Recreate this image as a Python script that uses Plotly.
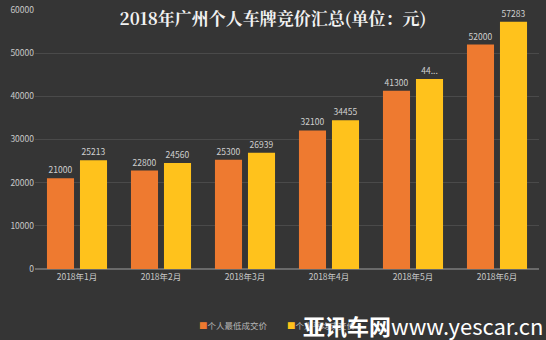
import plotly.graph_objects as go

months = ["2018年1月", "2018年2月", "2018年3月", "2018年4月", "2018年5月", "2018年6月"]
min_price = [21000, 22800, 25300, 32100, 41300, 52000]
avg_price = [25213, 24560, 26939, 34455, 44000, 57283]
avg_labels = ["25213", "24560", "26939", "34455", "44...", "57283"]
min_labels = [str(v) for v in min_price]
series_names = ["个人最低成交价", "个人平均成交价"]
colors = ["#EE7A30", "#FFC21C"]

fig = go.Figure()
fig.add_trace(go.Bar(
    x=months, y=min_price, name=series_names[0],
    marker=dict(color=colors[0], line=dict(width=0)),
    text=min_labels, textposition="outside", cliponaxis=False,
    textfont=dict(color="#d0d0d0", size=8.5),
))
fig.add_trace(go.Bar(
    x=months, y=avg_price, name=series_names[1],
    marker=dict(color=colors[1], line=dict(width=0)),
    text=avg_labels, textposition="outside", cliponaxis=False,
    textfont=dict(color="#d0d0d0", size=8.5),
))

fig.update_layout(
    width=546, height=340,
    margin=dict(l=35, r=7, t=10, b=71, autoexpand=False),
    paper_bgcolor="#353535", plot_bgcolor="rgba(0,0,0,0)",
    font=dict(family="Noto Sans CJK SC, sans-serif", color="#cccccc", size=9),
    barmode="group", bargap=0.214, bargroupgap=0.18,
    title=dict(text="<b>2018年广州个人车牌竞价汇总(单位：元)</b>",
               x=0.5, xanchor="center", y=0.945, yanchor="middle",
               font=dict(size=17, color="#f2f2f2", family="Noto Serif CJK SC, Noto Sans CJK SC, serif")),
    showlegend=False,
    uniformtext=dict(minsize=8, mode="show"),
)
fig.update_yaxes(range=[0, 60000], dtick=10000, tickformat="d", showgrid=True, gridcolor="#4a4a4a",
                 gridwidth=1, zeroline=True, zerolinecolor="#6a6a6a", tickfont=dict(size=8.5, color="#c8c8c8"),
                 ticks="", showline=False)
fig.update_xaxes(showgrid=False, tickfont=dict(size=8.5, color="#c8c8c8"), ticks="",
                 showline=True, linecolor="#6a6a6a")

# legend drawn as text with coloured squares
legend_x = [197, 285]
for nm, c, lx in zip(series_names, colors, legend_x):
    fig.add_annotation(text=f"<span style='color:{c}'>■</span>{nm}", xref="paper", yref="paper",
                       x=(lx - 35) / 504, y=(269 - 325) / 259, xanchor="left", yanchor="middle",
                       showarrow=False, font=dict(size=8.5, color="#b8b8b8"))

fig.add_annotation(text="<b>亚讯车网</b>www.yescar.cn", xref="paper", yref="paper",
                   x=1.0, y=(269 - 325) / 259, xanchor="right", yanchor="middle", showarrow=False,
                   xshift=6,
                   font=dict(size=22, color="#ffffff", family="Noto Sans CJK SC, sans-serif"))

fig.write_html("out.html")
